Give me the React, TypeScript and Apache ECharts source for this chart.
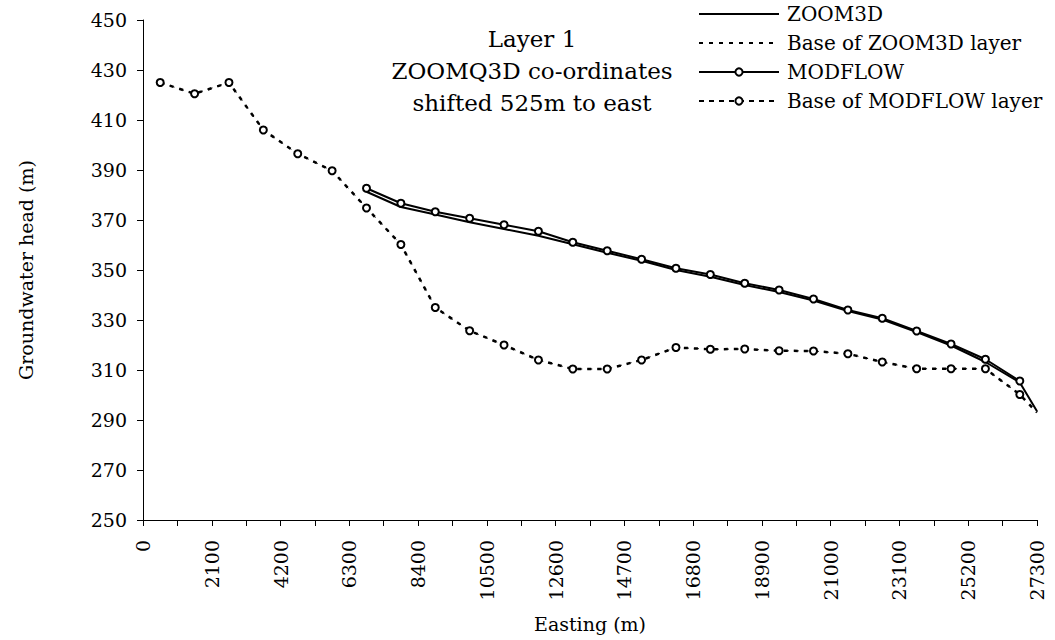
import React, { useEffect, useRef } from "react";
import * as echarts from "echarts";

// Easting positions (m) of model nodes
const modflowX = [6825, 7875, 8925, 9975, 11025, 12075, 13125, 14175, 15225, 16275, 17325, 18375, 19425, 20475, 21525, 22575, 23625, 24675, 25725, 26775];
const modflowHead = [382.7, 376.7, 373.3, 370.7, 368.1, 365.5, 361.1, 357.7, 354.3, 350.7, 348.2, 344.7, 342.0, 338.4, 334.0, 330.7, 325.6, 320.4, 314.3, 305.6];

const zoomX = [6825, 7875, 8925, 9975, 11025, 12075, 13125, 14175, 15225, 16275, 17325, 18375, 19425, 20475, 21525, 22575, 23625, 24675, 25725, 26775, 27300];
const zoomHead = [381.3, 375.2, 372.2, 369.1, 366.4, 363.7, 360.3, 356.9, 353.7, 350.0, 347.3, 344.0, 341.2, 337.8, 333.6, 330.2, 325.2, 319.8, 313.2, 305.0, 293.5];

const baseX = [525, 1575, 2625, 3675, 4725, 5775, 6825, 7875, 8925, 9975, 11025, 12075, 13125, 14175, 15225, 16275, 17325, 18375, 19425, 20475, 21525, 22575, 23625, 24675, 25725, 26775];
const modflowBase = [425.0, 420.5, 425.0, 406.0, 396.5, 389.7, 374.8, 360.2, 335.0, 325.7, 320.0, 314.0, 310.4, 310.4, 314.0, 319.0, 318.3, 318.4, 317.7, 317.6, 316.5, 313.2, 310.5, 310.5, 310.5, 300.2];

const zoomBaseX = [525, 1575, 2625, 3675, 4725, 5775, 6825, 7875, 8925, 9975, 11025, 12075, 13125, 14175, 15225, 16275, 17325, 18375, 19425, 20475, 21525, 22575, 23625, 24675, 25725, 26775, 27300];
const zoomBase = [425.0, 420.5, 425.0, 406.0, 396.5, 389.7, 374.8, 360.2, 335.0, 325.7, 320.0, 314.0, 310.4, 310.4, 314.0, 319.0, 318.3, 318.4, 317.7, 317.6, 316.5, 313.2, 310.5, 310.5, 310.5, 300.2, 293.0];

const yTicks = [250, 270, 290, 310, 330, 350, 370, 390, 410, 430, 450];
const seriesNames = ["ZOOM3D", "Base of ZOOM3D layer", "MODFLOW", "Base of MODFLOW layer"];
const titleLines = ["Layer 1", "ZOOMQ3D co-ordinates", "shifted 525m to east"];

const FONT = "'DejaVu Serif', 'Liberation Serif', serif";
const FS = 19;

const pairs = (xs: number[], ys: number[]) => xs.map((x, i) => [x, ys[i]]);

export default function App() {
  const ref = useRef<HTMLDivElement>(null);
  useEffect(() => {
    if (!ref.current) return;
    const chart = echarts.init(ref.current, undefined, { renderer: "svg" });
    chart.setOption({
      animation: false,
      backgroundColor: "#ffffff",
      textStyle: { fontFamily: FONT, color: "#000" },
      grid: { left: 143, right: 18, top: 20, bottom: 120, containLabel: false },
      title: {
        text: titleLines.join("\n"),
        left: 527,
        top: 18,
        textAlign: "center",
        textStyle: { fontFamily: FONT, fontSize: 23, fontWeight: "normal", color: "#000", lineHeight: 32 },
      },
      legend: {
        orient: "vertical",
        left: 698,
        top: 3,
        padding: 0,
        itemWidth: 80,
        itemHeight: 9,
        itemGap: 7,
        data: [
          { name: seriesNames[0], itemStyle: { opacity: 0 } },
          { name: seriesNames[1], itemStyle: { opacity: 0 } },
          { name: seriesNames[2] },
          { name: seriesNames[3] },
        ],
        textStyle: { fontFamily: FONT, fontSize: 20, color: "#000", lineHeight: 22, padding: [0, 0, 0, 3] },
      },
      xAxis: {
        type: "value",
        min: 0,
        max: 27300,
        interval: 2100,
        name: "Easting (m)",
        nameLocation: "middle",
        nameGap: 94,
        nameTextStyle: { fontFamily: FONT, fontSize: FS, color: "#000" },
        axisLine: { show: true, onZero: false, lineStyle: { color: "#000", width: 1 } },
        axisTick: { show: true, length: 6, lineStyle: { color: "#000" } },
        minorTick: { show: true, splitNumber: 2, length: 6, lineStyle: { color: "#000" } },
        splitLine: { show: false },
        axisLabel: {
          rotate: 90,
          margin: 20,
          fontFamily: FONT,
          fontSize: FS,
          color: "#000",
          formatter: (v: number) => String(v),
        },
      },
      yAxis: {
        type: "value",
        min: 250,
        max: 450,
        name: "Groundwater head (m)",
        nameLocation: "middle",
        nameGap: 108,
        nameTextStyle: { fontFamily: FONT, fontSize: FS, color: "#000" },
        axisLine: { show: true, onZero: false, lineStyle: { color: "#000", width: 1 } },
        axisTick: { show: true, length: 6, lineStyle: { color: "#000" }, customValues: yTicks },
        splitLine: { show: false },
        axisLabel: {
          margin: 16,
          fontFamily: FONT,
          fontSize: FS,
          color: "#000",
          customValues: yTicks,
          formatter: (v: number) => String(v),
        },
      },
      series: [
        {
          name: seriesNames[0],
          type: "line",
          data: pairs(zoomX, zoomHead),
          showSymbol: false,
          symbol: "none",
          lineStyle: { color: "#000", width: 2 },
          itemStyle: { color: "#000" },
          z: 2,
        },
        {
          name: seriesNames[1],
          type: "line",
          data: pairs(zoomBaseX, zoomBase),
          symbol: "none",
          lineStyle: { color: "#000", width: 2.5, type: [4, 6] },
          itemStyle: { color: "#000" },
          z: 2,
        },
        {
          name: seriesNames[2],
          type: "line",
          data: pairs(modflowX, modflowHead),
          symbol: "circle",
          symbolSize: 7,
          lineStyle: { color: "#000", width: 2 },
          itemStyle: { color: "#fff", borderColor: "#000", borderWidth: 2 },
          z: 3,
        },
        {
          name: seriesNames[3],
          type: "line",
          data: pairs(baseX, modflowBase),
          symbol: "circle",
          symbolSize: 7,
          lineStyle: { color: "#000", width: 1, type: [5, 5] },
          itemStyle: { color: "#fff", borderColor: "#000", borderWidth: 2 },
          z: 3,
        },
      ],
    });
    return () => chart.dispose();
  }, []);
  return <div ref={ref} style={{ position: "fixed", left: 0, top: 0, width: 1055, height: 640 }} />;
}
